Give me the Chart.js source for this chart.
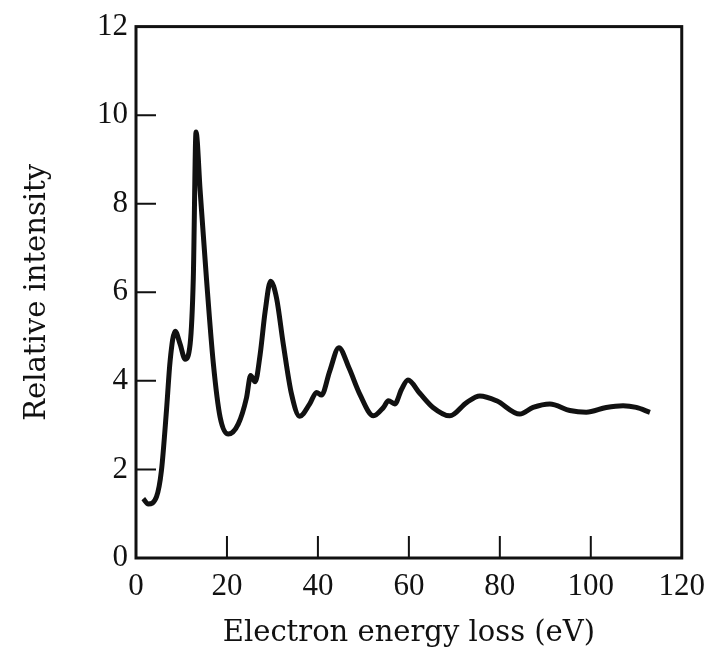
<!DOCTYPE html>
<html>
<head>
<meta charset="utf-8">
<script src="https://cdn.jsdelivr.net/npm/chart.js@4"></script>
<style>
  html, body { margin: 0; padding: 0; background: #fff; }
  #wrap { width: 715px; height: 654px; }
</style>
</head>
<body>
<div id="wrap"><canvas id="eels"></canvas></div>
<script>
// Values
const energyLoss = [1.6, 2.7, 4.5, 5.6, 6.7, 7.5, 8.6, 9.7, 10.8, 11.9, 12.6, 13.2, 14.1, 15.5, 17, 18.5,
  20.3, 22.5, 24.3, 25.2, 26.2, 27.3, 28.4, 29.6, 30.9, 32.4, 34.2, 36, 38.2, 39.7, 40.8, 42.6,
  44.6, 46.8, 49.2, 52.2, 54.4, 55.5, 56.9, 58.4, 59.8, 62.4, 65.3, 69, 72.7, 75.6, 79.3, 84.4,
  87.3, 91, 95.4, 99, 103.4, 107.1, 110, 113];
const intensity = [1.34, 1.22, 1.38, 1.98, 3.33, 4.45, 5.12, 4.83, 4.49, 4.83, 6.32, 9.62, 8.3, 6.3, 4.4, 3.18,
  2.8, 3.03, 3.62, 4.12, 3.98, 4.6, 5.57, 6.25, 5.87, 4.82, 3.7, 3.2, 3.48, 3.74, 3.68, 4.22,
  4.75, 4.3, 3.7, 3.21, 3.4, 3.55, 3.48, 3.81, 4.02, 3.72, 3.4, 3.21, 3.51, 3.66, 3.55, 3.25,
  3.4, 3.48, 3.33, 3.29, 3.4, 3.44, 3.4, 3.29];
const xTicks = [0, 20, 40, 60, 80, 100, 120];
const yTicks = [0, 2, 4, 6, 8, 10, 12];

const ink = '#111';
const tickFont = { family: '"Liberation Serif", serif', size: 31 };
const titleFont = { family: '"DejaVu Serif", serif', size: 29 };

// Frame round the plot plus inward tick marks
const frameTicks = {
  id: 'frameTicks',
  afterDraw(chart) {
    const { ctx, chartArea: a, scales } = chart;
    ctx.save();
    ctx.strokeStyle = ink;
    ctx.lineWidth = 3;
    ctx.strokeRect(a.left, a.top, a.right - a.left, a.bottom - a.top);
    ctx.lineWidth = 2;
    ctx.beginPath();
    yTicks.slice(1, -1).forEach((v) => {
      const y = scales.y.getPixelForValue(v);
      ctx.moveTo(a.left, y);
      ctx.lineTo(a.left + 20, y);
    });
    xTicks.slice(1, -1).forEach((v) => {
      const x = scales.x.getPixelForValue(v);
      ctx.moveTo(x, a.bottom);
      ctx.lineTo(x, a.bottom - 22);
    });
    ctx.stroke();
    ctx.restore();
  },
};

new Chart(document.getElementById('eels'), {
  type: 'line',
  data: {
    datasets: [
      {
        data: energyLoss.map((e, i) => ({ x: e, y: intensity[i] })),
        borderColor: ink,
        borderWidth: 5,
        pointRadius: 0,
        cubicInterpolationMode: 'monotone',
        fill: false,
      },
    ],
  },
  options: {
    responsive: true,
    maintainAspectRatio: false,
    animation: false,
    layout: { padding: { top: 24, right: 33, left: 0, bottom: 0 } },
    plugins: { legend: { display: false }, tooltip: { enabled: false } },
    scales: {
      x: {
        type: 'linear',
        min: 0,
        max: 120,
        afterBuildTicks: (s) => { s.ticks = xTicks.map((v) => ({ value: v })); },
        afterFit: (s) => { s.height = 96; },
        grid: { display: false, drawTicks: false },
        border: { display: false },
        ticks: { color: ink, font: tickFont, padding: 10, maxRotation: 0 },
        title: {
          display: true,
          text: 'Electron energy loss (eV)',
          color: ink,
          font: titleFont,
          padding: { top: 0, bottom: 3 },
        },
      },
      y: {
        min: 0,
        max: 12,
        afterBuildTicks: (s) => { s.ticks = yTicks.map((v) => ({ value: v })); },
        afterFit: (s) => { s.width = 136; },
        grid: { display: false, drawTicks: false },
        border: { display: false },
        ticks: { color: ink, font: tickFont, padding: 8 },
        title: {
          display: true,
          text: 'Relative intensity',
          color: ink,
          font: titleFont,
          padding: { top: 20, bottom: 0 },
        },
      },
    },
  },
  plugins: [frameTicks],
});
</script>
</body>
</html>
